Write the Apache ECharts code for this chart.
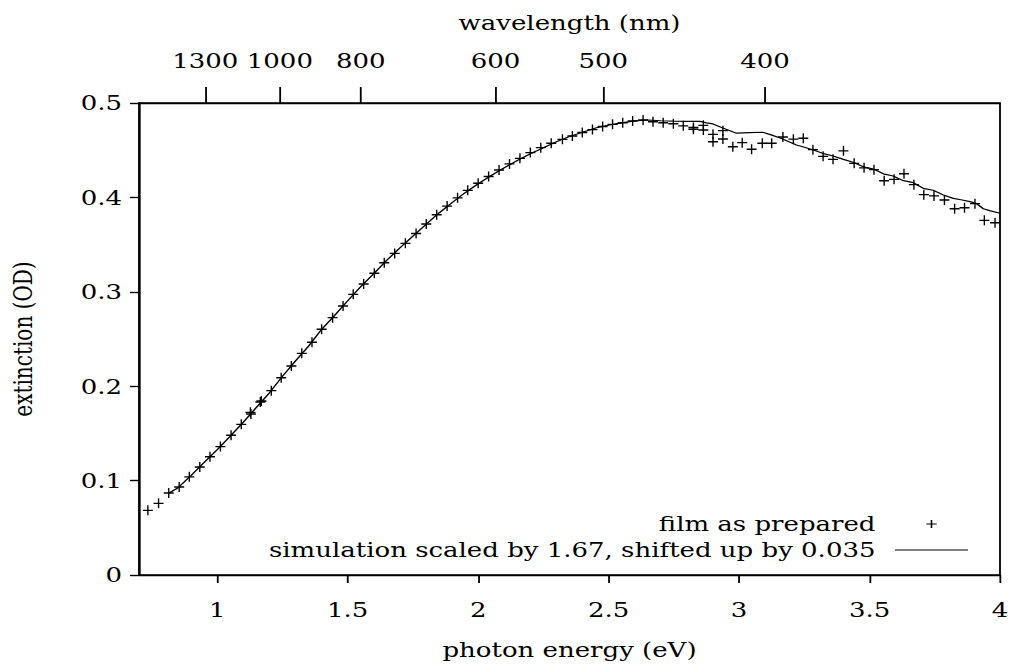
<!DOCTYPE html>
<html>
<head>
<meta charset="utf-8">
<script src="https://cdn.jsdelivr.net/npm/echarts@6/dist/echarts.min.js"></script>
<style>
  html, body { margin: 0; padding: 0; background: #ffffff; overflow: hidden; }
  #chart { height: 667px; transform-origin: 0 0; }
</style>
</head>
<body>
<div id="chart"></div>
<script>
const FONT = 'DejaVu Serif';
const HC = 1239.84; // eV·nm, converts photon energy to wavelength

// Measured extinction of the film as prepared (photon energy in eV, OD)
const filmEnergy = [
  0.734, 0.775, 0.814, 0.854, 0.893, 0.933, 0.972, 1.012, 1.053, 1.092,
  1.127, 1.129, 1.165, 1.169, 1.207, 1.245, 1.284, 1.324, 1.363, 1.400,
  1.442, 1.482, 1.521, 1.561, 1.602, 1.640, 1.680, 1.721, 1.762, 1.801,
  1.841, 1.881, 1.921, 1.960, 2.000, 2.040, 2.080, 2.120, 2.160, 2.200,
  2.240, 2.280, 2.323, 2.361, 2.399, 2.438, 2.477, 2.515, 2.554, 2.592,
  2.632, 2.670, 2.709, 2.748, 2.786, 2.825, 2.825, 2.863, 2.863, 2.900,
  2.900, 2.938, 2.938, 2.976, 3.012, 3.048, 3.089, 3.125, 3.168, 3.208,
  3.246, 3.283, 3.322, 3.360, 3.400, 3.441, 3.479, 3.517, 3.556, 3.594,
  3.632, 3.670, 3.708, 3.747, 3.787, 3.826, 3.864, 3.904, 3.940, 3.981
];
const filmOD = [
  0.0685, 0.0759, 0.0869, 0.0932, 0.1040, 0.1144, 0.1253, 0.1360, 0.1480, 0.1596,
  0.1723, 0.1706, 0.1833, 0.1843, 0.1953, 0.2090, 0.2214, 0.2348, 0.2465, 0.2603,
  0.2726, 0.2850, 0.2973, 0.3083, 0.3196, 0.3308, 0.3407, 0.3513, 0.3617, 0.3718,
  0.3816, 0.3908, 0.3995, 0.4075, 0.4150, 0.4222, 0.4290, 0.4355, 0.4414, 0.4475,
  0.4527, 0.4573, 0.4615, 0.4650, 0.4688, 0.4718, 0.4751, 0.4774, 0.4791, 0.4809,
  0.4820, 0.4802, 0.4791, 0.4780, 0.4758, 0.4740, 0.4722, 0.4763, 0.4714, 0.4668,
  0.4590, 0.4707, 0.4619, 0.4537, 0.4580, 0.4510, 0.4573, 0.4573, 0.4640, 0.4617,
  0.4626, 0.4506, 0.4435, 0.4403, 0.4493, 0.4361, 0.4313, 0.4294, 0.4177, 0.4191,
  0.4251, 0.4135, 0.4029, 0.4016, 0.3972, 0.3880, 0.3890, 0.3934, 0.3757, 0.3732
];

// Simulated spectrum, scaled by 1.67 and shifted up by 0.035
const simEnergy = [
  0.815, 0.85, 0.90, 0.95, 1.00, 1.05, 1.10, 1.15, 1.20, 1.25,
  1.30, 1.35, 1.40, 1.45, 1.50, 1.55, 1.60, 1.65, 1.70, 1.75,
  1.80, 1.85, 1.90, 1.95, 2.00, 2.05, 2.10, 2.15, 2.20, 2.25,
  2.30, 2.35, 2.40, 2.45, 2.50, 2.55, 2.60, 2.65, 2.70, 2.75,
  2.80, 2.85, 2.875, 2.90, 2.94, 2.99, 3.04, 3.09, 3.12, 3.16,
  3.22, 3.25, 3.285, 3.32, 3.36, 3.40, 3.44, 3.48, 3.515, 3.553,
  3.59, 3.63, 3.668, 3.706, 3.744, 3.783, 3.821, 3.85, 3.885, 3.91,
  3.936, 3.96, 4.00
];
const simOD = [
  0.0868, 0.0925, 0.1055, 0.1192, 0.1328, 0.1472, 0.1620, 0.1775, 0.1930, 0.2105,
  0.2268, 0.2425, 0.2603, 0.2750, 0.2905, 0.3055, 0.3193, 0.3335, 0.3465, 0.3590,
  0.3715, 0.3835, 0.3945, 0.4050, 0.4145, 0.4232, 0.4315, 0.4390, 0.4462, 0.4525,
  0.4590, 0.4645, 0.4690, 0.4735, 0.4765, 0.4790, 0.4810, 0.4820, 0.4812, 0.4808,
  0.4806, 0.4805, 0.4790, 0.4778, 0.4732, 0.4680, 0.4686, 0.4690, 0.4665, 0.4626,
  0.4555, 0.4531, 0.4502, 0.4467, 0.4439, 0.4403, 0.4370, 0.4320, 0.4300, 0.4250,
  0.4227, 0.4177, 0.4156, 0.4096, 0.4076, 0.4025, 0.3990, 0.3975, 0.3955, 0.3935,
  0.3880, 0.3860, 0.3832
];

// Axis ticks
const energyTicks = [1, 1.5, 2, 2.5, 3, 3.5, 4];
const wavelengthTicks = [1300, 1000, 800, 600, 500, 400];
const wavelengthTickEnergies = wavelengthTicks.map(w => HC / w);

const seriesNames = ['film as prepared', 'simulation scaled by 1.67, shifted up by 0.035'];

// The figure is laid out on a narrower canvas and widened horizontally,
// giving the wide lettering of the printed figure.
const PAGE_W = 1014;
const WIDEN = 1.3;
const W = PAGE_W / WIDEN;
const sx = px => px / WIDEN; // horizontal page pixels -> canvas units

const el = document.getElementById('chart');
el.style.width = W + 'px';
el.style.transform = 'scaleX(' + WIDEN + ')';

const E_MIN = 0.7, E_MAX = 4;
const text = { fontFamily: FONT, fontSize: 20, color: '#000' };
const axisLine = { show: true, lineStyle: { color: '#000', width: 1.4 } };
const tickStyle = { color: '#000', width: 1.4 };

const chart = echarts.init(el, null, { renderer: 'svg', width: W, height: 667 });

chart.setOption({
  backgroundColor: '#fff',
  animation: false,
  textStyle: { fontFamily: FONT },
  grid: {
    left: sx(139), right: sx(14), top: 103, bottom: 92,
    show: true, borderColor: '#000', borderWidth: 1.4,
    containLabel: false, outerBoundsMode: 'none'
  },
  legend: {
    orient: 'vertical',
    align: 'right',
    right: sx(46),
    top: 512,
    padding: 0,
    itemGap: 2,
    itemWidth: sx(73),
    itemHeight: 8,
    textStyle: { fontFamily: FONT, fontSize: 20, color: '#000', lineHeight: 24, padding: [0, sx(13), 0, 0] },
    itemStyle: { borderWidth: 1.2 },
    data: [
      { name: seriesNames[0] },
      { name: seriesNames[1], icon: 'path://M0,0H56V1.2H0Z', itemStyle: { borderWidth: 0 } }
    ],
    selectedMode: false
  },
  xAxis: [
    {
      type: 'value', position: 'bottom', min: E_MIN, max: E_MAX,
      name: 'photon energy (eV)', nameLocation: 'middle', nameGap: 65,
      nameTextStyle: text,
      axisLine: axisLine,
      axisTick: { show: true, inside: false, length: 8, customValues: energyTicks, lineStyle: tickStyle },
      axisLabel: { ...text, margin: 25, customValues: energyTicks, formatter: v => String(v) },
      splitLine: { show: false }
    },
    {
      type: 'value', position: 'top', min: E_MIN, max: E_MAX,
      name: 'wavelength (nm)', nameLocation: 'middle', nameGap: 70,
      nameTextStyle: text,
      axisLine: axisLine,
      axisTick: { show: true, inside: false, length: 16, customValues: wavelengthTickEnergies, lineStyle: tickStyle },
      axisLabel: { ...text, margin: 32, customValues: wavelengthTickEnergies, formatter: v => String(Math.round(HC / v)) },
      splitLine: { show: false }
    }
  ],
  yAxis: {
    type: 'value', min: 0, max: 0.5, interval: 0.1,
    name: 'extinction (OD)', nameLocation: 'middle', nameGap: sx(104),
    nameTextStyle: text,
    axisLine: axisLine,
    axisTick: { show: true, inside: false, length: sx(9), lineStyle: tickStyle },
    axisLabel: { ...text, margin: sx(17), formatter: v => (v === 0 ? '0' : v.toFixed(1)) },
    splitLine: { show: false }
  },
  series: [
    {
      name: seriesNames[0],
      type: 'scatter',
      xAxisIndex: 0,
      symbol: 'path://M0,5H10M5,0V10',
      symbolSize: [sx(10), 10],
      symbolKeepAspect: false,
      itemStyle: { color: '#000', borderColor: '#000', borderWidth: 1.2, opacity: 1 },
      emphasis: { disabled: true },
      data: filmEnergy.map((e, i) => [e, filmOD[i]]),
      z: 3
    },
    {
      name: seriesNames[1],
      type: 'line',
      xAxisIndex: 0,
      symbol: 'none',
      showSymbol: false,
      smooth: false,
      lineStyle: { color: '#000', width: 1.2 },
      itemStyle: { color: '#000' },
      emphasis: { disabled: true },
      data: simEnergy.map((e, i) => [e, simOD[i]]),
      z: 2
    }
  ]
});
</script>
</body>
</html>
